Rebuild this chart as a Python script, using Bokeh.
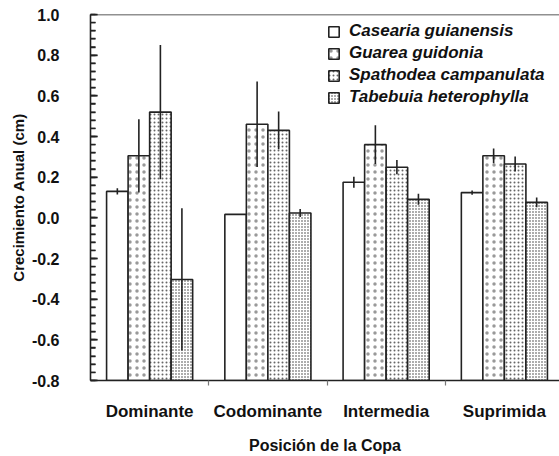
from bokeh.plotting import figure
from bokeh.models import (Range1d, FixedTicker, SingleIntervalTicker, Span, Legend, LegendItem,
                          ColumnDataSource, CustomJSTickFormatter)
from bokeh.embed import file_html
from bokeh.resources import INLINE

categories = ["Dominante", "Codominante", "Intermedia", "Suprimida"]
species = ["Casearia guianensis", "Guarea guidonia", "Spathodea campanulata", "Tabebuia heterophylla"]

casearia = [0.13, 0.017, 0.175, 0.124]
casearia_err = [0.015, 0.0, 0.027, 0.01]
guarea = [0.305, 0.46, 0.36, 0.305]
guarea_err = [0.18, 0.21, 0.095, 0.036]
spathodea = [0.52, 0.43, 0.249, 0.265]
spathodea_err = [0.33, 0.093, 0.035, 0.037]
tabebuia = [-0.303, 0.024, 0.091, 0.076]
tabebuia_err = [0.35, 0.02, 0.027, 0.024]

values = [casearia, guarea, spathodea, tabebuia]
errors = [casearia_err, guarea_err, spathodea_err, tabebuia_err]
# (pattern, scale, alpha)
hatches = [None, ("dot", 7, 0.4), ("dot", 4, 0.6), ("dot", 3, 0.8)]

Y_MIN, Y_MAX, Y_STEP, Y_MINOR = -0.8, 1.0, 0.2, 5
X_MIN, X_MAX = -0.5, 3.466

FONT = "Liberation Sans"
W, H = 559, 456
LEFT, RIGHT, TOP, BOTTOM = 90, 0, 14, 76

p = figure(width=W, height=H, output_backend="svg", toolbar_location=None,
           x_range=Range1d(X_MIN, X_MAX), y_range=Range1d(Y_MIN, Y_MAX),
           min_border_left=LEFT, min_border_right=RIGHT, min_border_top=TOP, min_border_bottom=BOTTOM)
p.outline_line_color = None
p.grid.visible = False
p.background_fill_color = "white"
p.border_fill_color = "white"

bw = 0.182
offsets = [-1.5 * bw, -0.5 * bw, 0.5 * bw, 1.5 * bw]
items = []
for i, (vals, errs, h) in enumerate(zip(values, errors, hatches)):
    xs = [k + offsets[i] for k in range(len(categories))]
    src = ColumnDataSource(dict(x=xs, top=vals, bottom=[Y_MIN] * len(vals),
                                lo=[v - e for v, e in zip(vals, errs)],
                                hi=[v + e for v, e in zip(vals, errs)]))
    kw = dict(fill_color="white", line_color="#222222", line_width=1.6)
    if h is not None:
        kw.update(hatch_pattern=h[0], hatch_scale=h[1], hatch_alpha=h[2], hatch_color="#000000")
    r = p.vbar(x="x", top="top", bottom="bottom", width=bw, source=src, **kw)
    p.segment(x0="x", x1="x", y0="lo", y1="hi", source=src, line_color="#222222", line_width=1.6)
    items.append(LegendItem(label=species[i], renderers=[r]))

p.add_layout(Span(location=Y_MAX, dimension="width", line_color="#222222", line_width=1.6))

# inward tick marks along the left axis
px = (X_MAX - X_MIN) / (W - LEFT - RIGHT)   # data units per pixel
n_minor = int(round((Y_MAX - Y_MIN) / Y_STEP * Y_MINOR))
tick_y = [Y_MIN + k * (Y_MAX - Y_MIN) / n_minor for k in range(n_minor + 1)]
tick_len = [7 if k % Y_MINOR == 0 else 5 for k in range(n_minor + 1)]
p.segment(x0=[X_MIN] * len(tick_y), x1=[X_MIN + L * px for L in tick_len],
          y0=tick_y, y1=tick_y, line_color="#222222", line_width=1.4)

# y axis
ya = p.yaxis[0]
ya.ticker = SingleIntervalTicker(interval=Y_STEP, num_minor_ticks=Y_MINOR)
ya.formatter = CustomJSTickFormatter(code="return tick.toFixed(1);")
ya.major_tick_in = 7
ya.major_tick_out = 0
ya.minor_tick_in = 5
ya.minor_tick_out = 0
ya.axis_line_width = 1.6
ya.major_tick_line_width = 1.4
ya.minor_tick_line_width = 1.4
ya.major_tick_line_color = "#222222"
ya.minor_tick_line_color = "#222222"
ya.axis_line_color = "#222222"
ya.major_label_text_font = FONT
ya.major_label_text_font_style = "bold"
ya.major_label_text_font_size = "16px"
ya.major_label_text_color = "#111111"
ya.major_label_standoff = 31
ya.axis_label = "Crecimiento Anual (cm)"
ya.axis_label_text_font = FONT
ya.axis_label_text_font_style = "bold"
ya.axis_label_text_font_size = "15px"
ya.axis_label_text_color = "#111111"
ya.axis_label_standoff = 2

# x axis
xa = p.xaxis[0]
xa.ticker = FixedTicker(ticks=[0, 1, 2, 3], minor_ticks=[0.5, 1.5, 2.5])
xa.major_label_overrides = {i: c for i, c in enumerate(categories)}
xa.major_tick_line_color = None
xa.major_tick_in = 0
xa.major_tick_out = 0
xa.minor_tick_in = 0
xa.minor_tick_out = 5
xa.minor_tick_line_color = "#777777"
xa.minor_tick_line_width = 1.2
xa.axis_line_width = 1.6
xa.axis_line_color = "#222222"
xa.major_label_text_font = FONT
xa.major_label_text_font_style = "bold"
xa.major_label_text_font_size = "17px"
xa.major_label_text_color = "#111111"
xa.major_label_standoff = 16
xa.axis_label = "Posición de la Copa"
xa.axis_label_text_font = FONT
xa.axis_label_text_font_style = "bold"
xa.axis_label_text_font_size = "16px"
xa.axis_label_text_color = "#111111"
xa.axis_label_standoff = 13

legend = Legend(items=items, location=(237, 273), padding=0, margin=0, spacing=2,
                glyph_width=13, glyph_height=13, label_standoff=9, label_height=20,
                border_line_color=None, background_fill_alpha=0,
                label_text_font=FONT, label_text_font_style="bold italic",
                label_text_font_size="17px", label_text_color="#111111")
p.add_layout(legend, "center")

open("out.html", "w").write(file_html(p, INLINE))
